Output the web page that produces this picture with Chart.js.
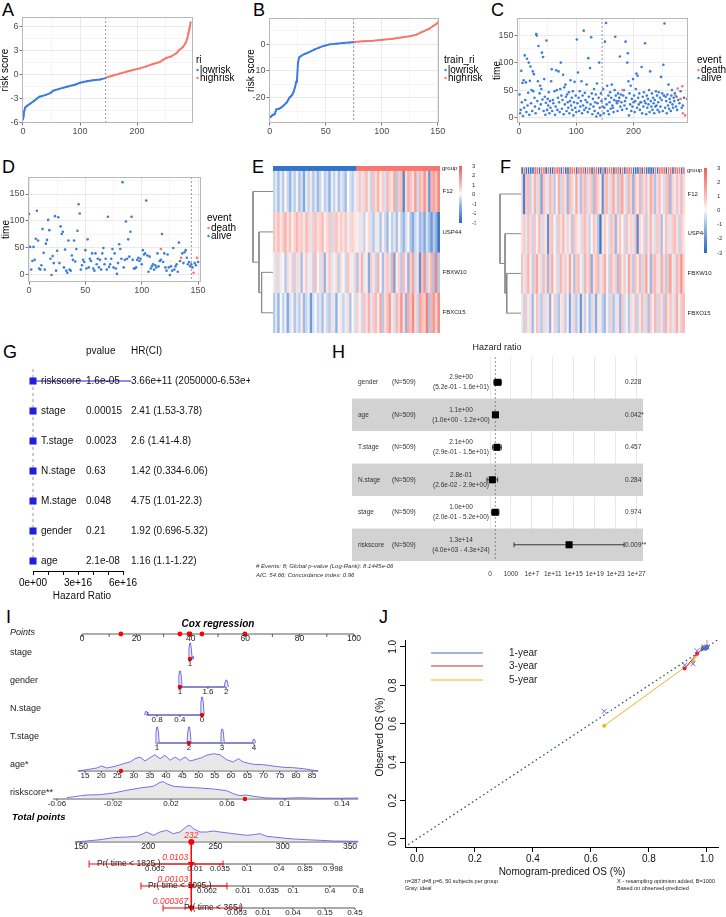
<!DOCTYPE html>
<html>
<head>
<meta charset="utf-8">
<script src="https://cdn.jsdelivr.net/npm/chart.js@4.4.1/dist/chart.umd.min.js"></script>
<style>
  body { margin: 0; background: #fff; }
  #page { position: relative; width: 726px; height: 917px; overflow: hidden; font-family: 'Liberation Sans', Arial, sans-serif; }
  #page canvas { position: absolute; }
  .tag { position: absolute; font-size: 18px; line-height: 18px; color: #000; }
</style>
</head>
<body>
<div id="page">
  <div class="tag" style="left:2px;top:1px">A</div>
  <div class="tag" style="left:253px;top:1px">B</div>
  <div class="tag" style="left:491px;top:1px">C</div>
  <div class="tag" style="left:2px;top:158px">D</div>
  <div class="tag" style="left:252px;top:158px">E</div>
  <div class="tag" style="left:500px;top:158px">F</div>
  <div class="tag" style="left:3px;top:343px">G</div>
  <div class="tag" style="left:332px;top:343px">H</div>
  <div class="tag" style="left:6px;top:608px">I</div>
  <div class="tag" style="left:379px;top:608px">J</div>
</div>
<script>
Chart.defaults.font.family = "'Liberation Sans', Arial, sans-serif";
Chart.defaults.animation = false;
Chart.defaults.responsive = false;
Chart.defaults.plugins.legend.display = false;
Chart.defaults.plugins.tooltip.enabled = false;

const FONT = "'Liberation Sans', Arial, sans-serif";
const BLUE = '#3B7DDC';
const RED = '#F8766D';

// ---------- A: risk score, training set ----------
const aLowIdx  = [0,1,2,4,7,13,19,24,29,39,48,53,62,77,91,100,112,123,135,145];
const aLowVal  = [-5.6,-5.2,-4.6,-4.1,-3.9,-3.6,-3.3,-3.0,-2.75,-2.55,-2.3,-2.0,-1.8,-1.5,-1.25,-1.0,-0.8,-0.68,-0.58,-0.42];
const aHighIdx = [146,158,170,181,193,205,216,228,240,245,251,260,269,274,280,285,288,290,292,294];
const aHighVal = [-0.35,-0.1,0.15,0.38,0.6,0.8,1.05,1.35,1.6,1.85,2.1,2.3,2.7,3.1,3.45,3.95,4.5,5.15,5.8,6.6];
const aCut = 145;

// ---------- B: risk score, test set ----------
const bLowIdx  = [0.6,1.8,3,4.5,6,8.3,10.4,12.5,14.9,16.4,17.9,20,21.4,22.6,23.8,24.4,25.3,26.2,28.3,31.3,35.7,40.2,44.6,49,53.6,59.5,65.5,71.4,75];
const bLowVal  = [-27.3,-26.7,-26.3,-26.1,-24.3,-24.1,-23.6,-22.9,-21.9,-20.9,-19.9,-19,-17.8,-16.1,-14,-13.4,-7,-5,-4.35,-3.7,-2.9,-2.0,-1.25,-0.6,-0.12,0.12,0.37,0.62,0.75];
const bHighIdx = [75.9,83.3,92.3,101,110,119,126.5,131,135.4,139.9,142.9,145.8,148.8,150.3];
const bHighVal = [0.75,1.0,1.25,1.6,2.0,2.5,3.0,3.5,4.35,5.2,5.8,6.7,7.45,8.2];
const bCut = 75;

// ---------- C: survival time, training set ----------
const cAlive = [[1,42],[2,8],[3,14],[4,85],[5,28],[6,63],[7,3],[8,68],[9,18],[10,113],[11,32],[12,64],[13,10],[14,107],[15,22],[16,45],[17,100],[18,5],[19,67],[20,93],[21,26],[22,50],[23,12],[24,84],[25,48],[26,79],[27,36],[28,20],[29,8],[30,152],
  [31,149],[32,30],[33,66],[34,130],[35,16],[36,44],[37,58],[38,24],[39,52],[40,118],[41,33],[42,110],[43,12],[44,70],[45,38],[46,5],[47,27],[48,140],[49,14],[50,34],[51,22],[52,46],[53,8],[54,30],[55,18],[56,66],[57,88],[58,12],[59,32],[60,26],
  [62,48],[63,5],[64,20],[65,86],[66,50],[67,14],[68,36],[69,84],[70,28],[71,10],[72,52],[73,100],[74,40],[75,16],[76,32],[77,78],[78,6],[79,55],[80,24],[81,60],[82,38],[83,12],[84,42],[85,28],[86,18],[87,46],[88,8],[89,30],[90,68],[91,22],[92,36],[93,14],[94,48],[95,4],[96,28],[97,65],[98,18],[99,40],[100,10],
  [101,142],[102,26],[103,82],[104,36],[105,12],[106,48],[107,20],[108,30],[109,66],[110,8],[111,40],[112,22],[113,158],[114,14],[115,45],[116,32],[117,18],[118,60],[119,28],[120,10],[121,108],[122,38],[123,16],[124,90],[125,24],[126,146],[127,44],[128,6],[129,34],[130,20],[131,52],[132,12],[133,28],[134,42],[135,2],[136,62],[137,26],[138,8],[139,36],[140,100],[141,18],[142,4],[143,44],[144,30],
  [146,20],[147,52],[148,8],[149,18],[150,138],[151,34],[152,172],[153,24],[154,58],[155,12],[156,40],[157,6],[158,28],[159,46],[160,16],[161,36],[162,60],[163,22],[168,147],[165,10],[166,32],[167,50],[164,18],[169,40],[170,30],[171,26],[172,12],[173,44],[174,30],[175,36],[176,111],[177,20],[178,42],[179,28],[180,14],[182,40],[183,50],[184,22],[185,30],[186,138],[187,36],[188,16],[189,100],[190,117],[191,66],[192,4],[193,44],[194,24],[195,58],[196,12],[197,34],[198,20],[199,70],[200,28],
  [201,40],[202,10],[203,30],[204,52],[205,80],[206,18],[207,76],[208,36],[209,24],[210,44],[211,14],[212,28],[213,28],[214,92],[215,8],[216,38],[217,20],[218,46],[219,30],[220,135],[221,26],[222,6],[223,40],[224,18],[225,34],[226,24],[227,50],[228,10],[229,84],[230,30],[231,20],[232,44],[233,14],[234,36],[235,26],[236,8],[237,32],[238,20],[239,48],[240,22],[241,40],[242,14],[243,28],[244,46],[245,10],[246,36],[247,20],[248,74],[249,32],[250,44],[251,12],[252,96],[253,40],[254,171],[255,18],[256,38],[257,30],[258,8],[259,42],[260,22],[261,60],[262,16],[263,34],[264,28],[265,12],[266,40],[267,50],[268,24],[269,18],[270,36],[271,30],[272,44],[274,20],[275,38],[276,14],[278,32],[280,26],[282,48],[284,18],[286,22],[288,36]];
const cDeath = [[181,50],[273,40],[277,53],[282,34],[285,57],[286,8],[290,4],[293,34]];
const cCut = 145;

// ---------- D: survival time, test set ----------
const dAlive = [[0,113],[1,52],[2,10],[3,26],[4,52],[5,28],[6,67],[7,119],[8,64],[9,12],[10,10],[11,18],[12,85],[13,41],[14,10],[15,58],[16,65],[17,102],[18,83],[19,30],[20,0],[21,35],[22,22],[23,109],[24,8],[25,45],[26,107],[27,22],[28,90],[29,76],
  [30,80],[31,14],[32,47],[33,8],[34,4],[35,64],[36,10],[37,8],[38,36],[39,28],[40,64],[41,25],[42,48],[43,82],[44,131],[45,114],[46,10],[47,18],[48,28],[49,24],[50,46],[51,12],[52,66],[53,14],[54,30],[55,26],[56,40],[57,12],[58,8],[59,40],
  [60,20],[61,30],[62,14],[63,28],[64,10],[65,40],[66,50],[67,20],[68,30],[69,10],[70,108],[71,15],[72,20],[73,30],[74,48],[75,14],[76,40],[77,12],[78,2],[79,22],[80,57],[81,48],[82,30],[83,172],[84,14],[85,28],[86,99],[87,30],[88,66],[89,34],
  [90,80],[91,108],[92,28],[93,12],[94,12],[95,14],[96,28],[97,32],[98,26],[99,30],[100,20],[101,46],[102,38],[103,40],[104,138],[105,36],[106,6],[107,34],[108,12],[109,16],[110,20],[111,10],[112,18],[113,14],[114,40],[115,16],[116,26],[117,28],[118,76],[119,24],
  [120,40],[121,14],[122,8],[123,38],[124,14],[125,0],[126,16],[127,8],[128,50],[129,10],[130,16],[131,20],[132,6],[133,60],[134,26],[136,40],[137,22],[138,42],[139,46],[140,32],[141,20],[142,24],[143,16],[144,20],[145,14],[147,22],[148,18],[150,24]];
const dDeath = [[117,48],[135,32],[146,4],[149,32]];
const dCut = 144;

// ---------- E / F: heatmaps (z-scores) ----------
const heatGenes = ['F12', 'USP44', 'FBXW10', 'FBXO15'];
const eGroup = [0,0,0,0,0,0,0,0,0,0,0,0,0,0,0,0,0,0,0,0,0,0,0,0,0,0,0,0,0,0,0,0,0,0,0,0,
                1,1,1,1,1,1,1,1,1,1,1,1,1,1,1,1,1,1,1,1,1,1,1,1,1,1,1,1,1,1,1,1,1,1,1,1];
const eF12 = [-0.6,-0.3,-1.0,-0.2,-0.8,0.1,-0.5,-1.2,-0.3,-0.7,0.2,-0.9,-0.4,-1.5,-0.2,-0.6,0.3,-0.8,-0.3,-1.1,-0.5,0.1,-0.7,-0.4,-1.3,-0.2,-0.6,0.2,-0.9,-0.3,-0.5,-1.0,0.0,-0.4,-0.7,-0.2,
              0.4,0.8,-0.3,0.6,1.0,0.3,-0.6,0.9,0.5,1.2,0.2,0.7,-0.4,1.1,0.6,0.3,1.4,-0.8,0.8,1.0,-2.2,0.5,1.3,0.9,0.4,1.6,-0.5,1.1,0.7,1.8,0.6,-1.8,1.2,1.5,0.9,2.0];
const eUSP44 = [0.8,0.5,1.0,0.3,0.7,1.2,0.4,0.9,0.2,0.6,1.1,0.5,0.8,0.3,1.0,0.6,-0.3,0.7,0.9,0.4,0.6,1.0,0.2,0.5,0.8,-0.5,0.6,0.9,0.3,0.7,0.4,0.8,-0.2,0.5,0.6,0.3,
                0.2,-0.3,0.4,-0.6,0.1,0.5,-0.4,-0.8,0.3,-0.2,-0.9,0.2,-0.5,-1.1,0.1,-0.7,-0.3,-1.0,0.2,-0.6,-1.2,-0.4,0.1,-0.9,-1.4,-0.5,-0.2,-1.1,-0.7,-1.5,-0.4,-1.0,-1.8,-0.8,-1.3,-2.6];
const eFBXW10 = [0.3,-0.4,0.6,-0.2,0.1,-0.8,0.5,0.2,-0.5,0.9,-0.3,0.4,-1.0,0.2,0.7,-0.2,0.3,-0.6,1.0,0.1,-0.4,0.6,-1.2,0.3,0.8,-0.3,0.2,0.5,-0.7,0.4,0.1,-0.5,0.9,0.3,-0.2,0.6,
                 -0.9,0.4,1.1,-0.3,0.2,-1.4,0.7,0.3,-0.6,1.2,0.1,-1.0,0.5,0.8,-0.4,1.3,-1.6,0.2,0.6,-0.8,1.0,0.3,-1.2,0.7,1.5,-0.5,0.4,-2.0,0.9,1.8,-0.6,0.5,1.2,-1.0,2.2,-0.8];
const eFBXO15 = [-0.8,-0.3,-1.2,0.1,-0.6,-0.2,-1.5,-0.4,0.2,-0.9,-0.3,-0.7,0.3,-1.1,-0.5,-0.2,-1.8,-0.4,0.1,-0.6,-0.3,-1.0,0.2,-0.5,-0.8,0.4,-0.3,-1.3,-0.1,0.3,-0.6,-0.2,0.5,-0.9,0.1,-0.4,
                 0.6,0.2,-0.5,0.9,0.4,1.2,-0.3,0.7,1.0,0.2,1.4,-0.8,0.5,0.9,1.6,0.3,-0.4,1.1,0.6,1.8,0.4,-1.2,1.3,0.8,2.0,0.5,-0.6,1.5,1.0,0.7,2.2,-0.9,1.2,1.7,0.6,1.9];

const fGroup = [0,1,0,0,0,0,1,1,0,1,1,0,1,0,0,1,1,1,0,1,0,0,1,1,1,0,1,1,1,0,1,1,0,1,1,0,0,1,0,1,
                1,1,0,1,1,0,1,0,1,1,1,0,0,0,1,0,1,0,0,0,0,1,0,1,1,1,0,1,1,0,1,1,1,0,1];
const fF12 = [0.5,-2.4,0.8,1.0,-0.6,0.3,1.2,-0.4,0.7,-1.6,0.9,0.4,-0.3,1.1,0.6,-0.8,0.2,1.3,-0.5,0.8,0.4,-1.2,1.0,0.6,-0.2,1.4,0.3,-0.9,0.7,1.1,
              -0.4,0.5,0.9,-1.0,1.2,0.6,0.2,-2.0,0.8,1.0,-0.3,0.7,1.3,0.4,-0.7,0.9,1.5,0.3,-0.5,1.1,0.6,-1.3,0.8,0.2,1.2,-0.6,0.5,0.9,-0.2,1.4,
              0.7,-0.9,0.4,1.0,0.2,-0.4,0.8,1.2,-1.1,0.6,0.3,0.9,-0.3,1.1,0.5];
const fUSP44 = [0.4,0.7,-0.3,0.9,0.5,-0.6,0.8,0.2,1.0,-0.4,0.6,0.3,-2.0,0.7,0.9,0.1,-0.5,0.8,0.4,1.1,-0.2,0.6,0.3,-0.8,0.9,0.5,0.2,-0.3,0.7,1.0,
                0.4,-0.6,0.1,0.8,0.5,-0.9,-2.6,0.3,0.7,0.2,-0.4,0.9,0.6,-1.2,0.4,0.8,0.1,-0.5,1.0,0.3,0.6,-0.3,0.9,-2.2,0.5,0.2,0.7,-0.7,0.4,1.1,
                0.3,-0.4,0.8,0.6,-1.0,0.2,0.9,0.5,-0.3,0.7,1.0,0.4,-0.6,0.8,0.3];
const fFBXW10 = [0.9,-0.3,0.6,1.2,0.2,-0.7,0.8,1.4,0.3,-0.4,1.0,0.5,-1.1,0.7,1.3,0.1,0.6,-0.5,1.1,0.4,0.8,-0.2,1.5,0.3,-0.9,0.7,1.0,0.2,-0.4,1.2,
                 0.5,0.9,-1.4,0.4,0.8,1.1,-0.3,0.6,1.3,0.2,-0.6,1.0,0.4,0.7,-1.0,1.2,0.3,0.8,-0.2,1.4,0.6,-0.8,0.9,0.3,1.1,-0.5,0.7,1.5,0.2,-1.2,
                 0.8,1.0,0.4,-0.3,1.3,0.6,-0.7,0.9,1.6,0.3,-0.4,1.1,0.7,1.8,0.5];
const fFBXO15 = [0.3,-0.6,0.8,-0.2,0.5,-1.1,0.2,0.9,-0.4,-0.8,0.6,-0.3,0.4,-1.3,0.1,0.7,-0.5,-0.9,0.3,0.5,-0.7,0.2,-1.5,-0.3,0.6,-0.8,-0.2,-1.9,0.4,-0.6,
                 0.1,-1.0,-0.4,0.5,-1.4,-0.2,0.3,-0.7,-1.1,0.2,-0.5,0.6,-0.9,-0.3,0.4,-1.2,0.8,-0.4,0.2,-0.8,0.5,-0.2,0.9,-0.6,0.3,1.0,-0.4,0.6,-1.0,0.7,
                 0.2,1.1,-0.5,0.8,0.4,-0.7,1.2,0.3,0.9,-0.3,0.6,1.3,-0.2,0.8,1.0];
const eDendroH = [0.57, 0.70, 1.0];   // merge heights: FBXW10+FBXO15, +USP44, +F12
const fDendroH = [0.68, 0.76, 1.0];
const legendTicks = [-3, -2, -1, 0, 1, 2, 3];

// ---------- G: univariate Cox forest ----------
const gVars = ['riskscore', 'stage', 'T.stage', 'N.stage', 'M.stage', 'gender', 'age'];
const gPval = ['1.6e-05', '0.00015', '0.0023', '0.63', '0.048', '0.21', '2.1e-08'];
const gHR   = [3.66e11, 2.41, 2.6, 1.42, 4.75, 1.92, 1.16];
const gLow  = [2050000, 1.53, 1.41, 0.334, 1.01, 0.696, 1.1];
const gHigh = [6.53e16, 3.78, 4.8, 6.06, 22.3, 5.32, 1.22];
const gHRText = ['3.66e+11 (2050000-6.53e+16)', '2.41 (1.53-3.78)', '2.6 (1.41-4.8)', '1.42 (0.334-6.06)',
                 '4.75 (1.01-22.3)', '1.92 (0.696-5.32)', '1.16 (1.1-1.22)'];
const gTickVals = [0, 1e16, 2e16, 3e16, 4e16, 5e16, 6e16];
const gTickLabels = ['0e+00', '', '', '3e+16', '', '', '6e+16'];

// ---------- H: multivariate Cox forest ----------
const hVars = ['gender', 'age', 'T.stage', 'N.stage', 'stage', 'riskscore'];
const hN = ['(N=509)', '(N=509)', '(N=509)', '(N=509)', '(N=509)', '(N=509)'];
const hHR   = [2.9, 1.1, 2.1, 0.28, 1.0, 1.3e14];
const hLow  = [0.52, 1.0, 0.29, 0.026, 0.2, 4.0e3];
const hHigh = [16, 1.2, 15, 2.9, 5.2, 4.3e24];
const hEst = ['2.9e+00', '1.1e+00', '2.1e+00', '2.8e-01', '1.0e+00', '1.3e+14'];
const hCI  = ['(5.2e-01 - 1.6e+01)', '(1.0e+00 - 1.2e+00)', '(2.9e-01 - 1.5e+01)', '(2.6e-02 - 2.9e+00)', '(2.0e-01 - 5.2e+00)', '(4.0e+03 - 4.3e+24)'];
const hP   = ['0.228', '0.042*', '0.457', '0.284', '0.974', '0.009**'];
const hTickVals = [0.1, 1e3, 1e7, 1e11, 1e15, 1e19, 1e23, 1e27];
const hTickLabels = ['0', '1000', '1e+7', '1e+11', '1e+15', '1e+19', '1e+23', '1e+27'];

// ---------- I: nomogram (positions in points / total points) ----------
const nomoPtsTicks = [0, 10, 20, 30, 40, 50, 60, 70, 80, 90, 100];
const nomoPtsLabels = ['0', '', '20', '', '40', '', '60', '', '80', '', '100'];
const stageLab = ['1'];                 const stagePts = [39.7];
const genderLab = ['1', '1.6', '2'];    const genderPts = [36.0, 46.3, 53.0];
const nstageLab = ['0.8', '0.4', '0'];  const nstagePts = [27.6, 36.0, 44.1];
const tstageLab = ['1', '2', '3', '4']; const tstagePts = [27.6, 39.3, 51.5, 63.2];
const ageLab = ['15','20','25','30','35','40','45','50','55','60','65','70','75','80','85'];
const agePts = [1.1, 7.1, 13.0, 19.0, 25.0, 30.9, 36.9, 42.9, 48.8, 54.8, 60.8, 66.7, 72.7, 78.7, 84.6];
const riskLab = ['-0.06', '-0.02', '0.02', '0.06', '0.1', '0.14'];
const riskPts = [-9.2, 11.4, 32.7, 53.3, 74.6, 95.6];
const totalTicks = [150, 200, 250, 300, 350];
const pr1825Lab = ['0.002','0.01','0.035','0.1','0.4','0.85','0.998'];
const pr1825Tot = [205, 234.8, 253.3, 273.4, 297.2, 316.5, 337.4];
const pr1095Lab = ['0.002','0.01','0.035','0.1','0.4','0.8'];
const pr1095Tot = [243.7, 270.4, 289.8, 307.6, 335.1, 356];
const pr365Lab = ['0.003','0.01','0.04','0.15','0.45'];
const pr365Tot = [266, 285.3, 307.6, 331.4, 353.7];
const stageDens  = [[39.0,0],[39.3,10],[39.6,16],[39.9,16],[40.2,10],[40.5,0],[40.8,3],[41.1,0]];
const genderDens = [[35.3,0],[35.6,11],[35.9,16],[36.2,16],[36.5,11],[36.8,0],[52.3,0],[52.6,5],[52.9,7],[53.2,7],[53.5,5],[53.8,0]];
const nstageDens = [[23.0,0],[23.3,3],[23.6,4],[23.9,3],[24.2,0],[43.4,0],[43.7,12],[44.0,18],[44.3,18],[44.6,12],[44.9,0]];
const tstageDens = [[26.9,0],[27.2,11],[27.5,16],[27.8,16],[28.1,11],[28.4,0],[38.6,0],[38.9,11],[39.2,16],[39.5,16],[39.8,11],[40.1,0],
                    [50.8,0],[51.1,10],[51.4,14],[51.7,14],[52.0,10],[52.3,0],[62.6,0],[62.9,3],[63.2,4],[63.5,3],[63.8,0]];
const ageDens = [[-1.4,0],[1.7,1.3],[5.4,3],[7.2,5],[9.1,3],[12.1,4.7],[15.2,7.3],[17.6,9],[19.5,12.3],[21.3,14],[23.2,10],[25,13.3],[26.8,16.3],
                 [28.7,12.3],[30.5,15.7],[32.4,10.7],[34.2,14],[36,10.7],[37.9,14],[39.7,10],[41.5,11.3],[44,13.3],[45.8,15.7],[48.3,17.3],[50.7,16.3],
                 [53.2,11.3],[55.6,9],[57.5,12.3],[59.3,9],[63,6.7],[66.7,6.3],[70.3,5],[74,3.7],[77.7,3.3],[81.4,2.3],[86.9,0]];
const riskDens = [[-10.6,0],[-5.6,1.3],[1.7,4],[6.6,4.3],[11.5,6],[16.4,8.7],[21.3,11],[26.2,12.7],[28.7,16.7],[29.9,17.3],[31.1,15.3],[33.6,12.7],
                  [38.5,11.7],[43.4,11],[48.3,10],[53.2,8.3],[55.6,5.3],[58.1,3.3],[60.5,4],[63,2.7],[67.9,1],[74,0.7],[80.1,1.3],[86.3,0.7],[92.4,0.7],[101.6,1]];
const totalDens = [[145.5,0],[154.2,1],[164.1,2.3],[174,4.3],[184,5],[191.4,5.7],[196.3,8.3],[198.8,10],[203.8,6.7],[208.7,10],[213.7,11.7],[218.6,8.3],
                   [223.6,10],[228.6,15.7],[231,16.7],[233.5,13.3],[238.5,10],[243.5,10],[248.4,11],[253.3,10],[263.3,8.3],[273.2,6.7],[278.2,7.3],
                   [283.1,8.3],[288.1,5.7],[298,4.3],[307.8,3],[317.8,2.3],[327.7,1.7],[337.6,1],[356.2,0.7]];
const nomoPatient = { stage: 39.7, gender: 36.0, nstage: 44.1, tstage: 39.3, age: 14.3, risk: 59.9 };
const nomoTotal = 232;
const prEst = ['0.0103', '0.00103', '0.000367'];
const prLow = [156, 194.6, 211];
const prHigh = [255.6, 258.5, 268.2];
const prNames = ['Pr( time < 1825 )', 'Pr( time < 1095 )', 'Pr( time < 365 )'];

// ---------- J: calibration ----------
const jDiag = [-0.03, 1.035];
const j1x = [0.985, 0.995, 1.0];          const j1y = [0.99, 0.99, 0.995];
const j3x = [0.923, 0.966, 0.99, 1.0];    const j3y = [0.887, 0.965, 0.995, 1.0];
const j5x = [0.646, 0.952, 0.985, 0.993, 1.0]; const j5y = [0.59, 0.925, 1.0, 1.0, 1.0];
const jCorrX = [0.646, 0.923, 0.952, 0.966, 0.99, 1.0];
const jCorrY = [0.665, 0.905, 0.912, 0.98, 1.0, 1.0];
const jTickVals = [0, 0.2, 0.4, 0.6, 0.8, 1.0];
const jTickLabels = ['0.0', '0.2', '0.4', '0.6', '0.8', '1.0'];

// ================= helpers =================
const page = document.getElementById('page');
function canvasAt(L, T, W, H) {
  const c = document.createElement('canvas');
  c.width = W; c.height = H;
  c.style.left = L + 'px'; c.style.top = T + 'px';
  c.style.width = W + 'px'; c.style.height = H + 'px';
  page.appendChild(c);
  return c;
}
function fixSize(prop, size) {
  return s => { s[prop] = size; s.paddingLeft = 0; s.paddingRight = 0; s.paddingTop = 0; s.paddingBottom = 0; };
}
function txt(ctx, s, x, y, o) {
  o = o || {};
  ctx.save();
  ctx.font = (o.style || '') + ' ' + (o.size || 10) + 'px ' + FONT;
  ctx.fillStyle = o.color || '#000';
  ctx.textAlign = o.align || 'left';
  ctx.textBaseline = 'middle';
  ctx.translate(x, y);
  if (o.rot) ctx.rotate(o.rot);
  ctx.fillText(s, 0, 0);
  ctx.restore();
}
function pts(xs, ys) { return xs.map((x, i) => ({ x: x, y: ys[i] })); }
function pairs(list) { return list.map(p => ({ x: p[0], y: p[1] })); }
function heatColor(v) {
  const t = Math.max(-1, Math.min(1, v / 3));
  const end = t < 0 ? [40, 104, 196] : [238, 96, 86];
  const k = Math.pow(Math.abs(t), 0.8);
  const c = end.map(e => Math.round(255 + (e - 255) * k));
  return 'rgb(' + c.join(',') + ')';
}

// ================= A-D: ggplot style panels =================
function ggPanel(o) {
  const a = o.area;
  const c = canvasAt(o.L, o.T, o.W, o.H);
  const axis = (min, max, maj, minr, fit) => {
    const all = maj.concat(minr).sort((p, q) => p - q);
    const isMaj = ctx => ctx.tick && maj.includes(ctx.tick.value);
    return {
      type: 'linear', min: min, max: max,
      afterBuildTicks: s => { s.ticks = all.map(v => ({ value: v })); },
      afterFit: fit,
      border: { display: false },
      grid: { color: ctx => isMaj(ctx) ? '#E4E4E4' : '#F3F3F3', tickColor: ctx => isMaj(ctx) ? '#555' : 'rgba(0,0,0,0)', tickLength: 2.5, lineWidth: 0.8 },
      ticks: { autoSkip: false, maxRotation: 0, minRotation: 0, padding: 1, color: '#4D4D4D', font: { size: 9 },
               callback: v => maj.includes(v) ? String(v) : '' }
    };
  };
  new Chart(c, {
    type: 'scatter',
    data: { datasets: o.datasets },
    options: {
      layout: { padding: { left: 0, top: a.t - o.T, right: o.L + o.W - a.r, bottom: 0 } },
      scales: {
        x: axis(o.xMin, o.xMax, o.xMajor, o.xMinor, fixSize('height', o.T + o.H - a.b)),
        y: axis(o.yMin, o.yMax, o.yMajor, o.yMinor, fixSize('width', a.l - o.L))
      }
    },
    plugins: [{
      id: 'gg',
      afterDraw(ch) {
        const ctx = ch.ctx, ca = ch.chartArea;
        ctx.save();
        const cx = ch.scales.x.getPixelForValue(o.cut);
        ctx.strokeStyle = '#8C8C8C'; ctx.lineWidth = 0.9; ctx.setLineDash([2, 2]);
        ctx.beginPath(); ctx.moveTo(cx, ca.top); ctx.lineTo(cx, ca.bottom); ctx.stroke();
        ctx.setLineDash([]);
        ctx.strokeStyle = '#B8B8B8'; ctx.lineWidth = 1;
        ctx.strokeRect(ca.left + 0.5, ca.top + 0.5, ca.width - 1, ca.height - 1);
        ctx.translate(-o.L, -o.T);
        txt(ctx, o.yTitle, o.yTitleX, (a.t + a.b) / 2, { size: 10, align: 'center', rot: -Math.PI / 2 });
        const lg = o.legend;
        txt(ctx, lg.title, lg.x, lg.y, { size: 10 });
        lg.items.forEach((it, i) => {
          const yy = lg.y + 10 + i * 8;
          ctx.fillStyle = it[1];
          ctx.beginPath(); ctx.arc(lg.x + 1.5, yy, 1.2, 0, Math.PI * 2); ctx.fill();
          txt(ctx, it[0], lg.x + 4, yy, { size: 10 });
        });
        ctx.restore();
      }
    }]
  });
}

function lineSet(xs, ys, color) {
  return { data: pts(xs, ys), showLine: true, borderColor: color, borderWidth: 2, pointRadius: 1, pointBackgroundColor: color, pointBorderWidth: 0 };
}
function dotSet(list, color) {
  return { data: pairs(list), pointRadius: 1.3, pointBackgroundColor: color, pointBorderWidth: 0 };
}

ggPanel({ L: 0, T: 12, W: 250, H: 128, area: { l: 22, t: 17, r: 193, b: 123 },
  xMin: -1.75, xMax: 298.2, xMajor: [0, 100, 200], xMinor: [50, 150, 250],
  yMin: -6.05, yMax: 7.25, yMajor: [-6, -3, 0, 3, 6], yMinor: [-4.5, -1.5, 1.5, 4.5],
  cut: aCut, yTitle: 'risk score', yTitleX: 5,
  legend: { title: 'ri', x: 196, y: 60, items: [['lowrisk', BLUE], ['highrisk', RED]] },
  datasets: [lineSet(aHighIdx, aHighVal, RED), lineSet(aLowIdx, aLowVal, BLUE)] });

ggPanel({ L: 245, T: 12, W: 245, H: 128, area: { l: 269, t: 18, r: 439, b: 123 },
  xMin: -0.6, xMax: 151.2, xMajor: [0, 50, 100, 150], xMinor: [25, 75, 125],
  yMin: -29.4, yMax: 9.7, yMajor: [-20, -10, 0], yMinor: [-25, -15, -5, 5],
  cut: bCut, yTitle: 'risk score', yTitleX: 251,
  legend: { title: 'train_ri', x: 444, y: 60, items: [['lowrisk', BLUE], ['highrisk', RED]] },
  datasets: [lineSet(bHighIdx, bHighVal, RED), lineSet(bLowIdx, bLowVal, BLUE)] });

ggPanel({ L: 490, T: 12, W: 236, H: 128, area: { l: 517, t: 18, r: 688, b: 123 },
  xMin: -3.5, xMax: 295, xMajor: [0, 100, 200], xMinor: [50, 150, 250],
  yMin: -9.8, yMax: 181, yMajor: [0, 50, 100, 150], yMinor: [25, 75, 125, 175],
  cut: cCut, yTitle: 'time', yTitleX: 497,
  legend: { title: 'event', x: 697, y: 60, items: [['death', RED], ['alive', BLUE]] },
  datasets: [dotSet(cDeath, RED), dotSet(cAlive, BLUE)] });

ggPanel({ L: 0, T: 170, W: 250, H: 125, area: { l: 28, t: 177, r: 201, b: 282 },
  xMin: -0.9, xMax: 152.6, xMajor: [0, 50, 100, 150], xMinor: [25, 75, 125],
  yMin: -13, yMax: 181.5, yMajor: [0, 50, 100, 150], yMinor: [25, 75, 125, 175],
  cut: dCut, yTitle: 'time', yTitleX: 6,
  legend: { title: 'event', x: 207, y: 218, items: [['death', RED], ['alive', BLUE]] },
  datasets: [dotSet(dDeath, RED), dotSet(dAlive, BLUE)] });

// ================= E / F: heatmaps =================
function heatPanel(o) {
  const a = o.area;
  const c = canvasAt(o.L, o.T, o.W, o.H);
  const nr = o.rows.length;
  const labels = o.rows[0].map((_, i) => i + 1);
  const ds = o.rows.map((vals, r) => ({
    data: vals.map(() => [nr - 1 - r, nr - r]),
    backgroundColor: vals.map(heatColor),
    grouped: false, barPercentage: 1, categoryPercentage: 1, borderWidth: 0
  }));
  ds.push({
    data: o.group.map(() => [nr, o.yTop]),
    backgroundColor: o.group.map(g => g ? RED : '#3474C8'),
    grouped: false, barPercentage: 1, categoryPercentage: 1,
    borderWidth: o.groupBorder, borderColor: '#fff', borderSkipped: false
  });
  new Chart(c, {
    type: 'bar',
    data: { labels: labels, datasets: ds },
    options: {
      layout: { padding: { left: a.l - o.L, top: a.t - o.T, right: o.L + o.W - a.r, bottom: o.T + o.H - a.b } },
      scales: { x: { display: false }, y: { display: false, min: 0, max: o.yTop } }
    },
    plugins: [{
      id: 'heatLabels',
      afterDraw(ch) {
        const ctx = ch.ctx, ys = ch.scales.y, ca = ch.chartArea;
        heatGenes.forEach((g, r) => txt(ctx, g, ca.right + 2.5, ys.getPixelForValue(nr - 0.5 - r), { size: 6, color: '#222' }));
        txt(ctx, 'group', ca.right + 2, ys.getPixelForValue((nr + o.yTop) / 2), { size: 6, color: '#222' });
      }
    }]
  });
}
function dendroPanel(o) {
  const a = o.area;
  const c = canvasAt(o.L, o.T, o.W, o.H);
  const [hs, hm, hr] = o.heights;
  const yOf = r => 3.5 - r;
  const ySub = (yOf(2) + yOf(3)) / 2, yMid = (yOf(1) + ySub) / 2;
  const segs = [
    [[0, yOf(2)], [hs, yOf(2)], [hs, yOf(3)], [0, yOf(3)]],
    [[0, yOf(1)], [hm, yOf(1)], [hm, ySub], [hs, ySub]],
    [[0, yOf(0)], [hr, yOf(0)], [hr, yMid], [hm, yMid]]
  ];
  new Chart(c, {
    type: 'scatter',
    data: { datasets: segs.map(s => ({ data: pairs(s), showLine: true, borderColor: '#8A8A8A', borderWidth: 1, pointRadius: 0, clip: false })) },
    options: {
      layout: { padding: { left: a.l - o.L, top: a.t - o.T, right: o.L + o.W - a.r, bottom: o.T + o.H - a.b } },
      scales: { x: { display: false, min: 0, max: 1, reverse: true }, y: { display: false, min: 0, max: o.yTop } }
    }
  });
}
function heatLegend(o) {
  const a = o.area;
  const c = canvasAt(o.L, o.T, o.W, o.H);
  const steps = Array.from({ length: 60 }, (_, i) => -2.95 + i * 0.1);
  new Chart(c, {
    type: 'bar',
    data: { labels: [''], datasets: steps.map(v => ({ data: [[v - 0.05, v + 0.05]], backgroundColor: heatColor(v), grouped: false, barPercentage: 1, categoryPercentage: 1 })) },
    options: {
      layout: { padding: { left: a.l - o.L, top: a.t - o.T, right: 0, bottom: o.T + o.H - a.b } },
      scales: {
        x: { display: false },
        y: { position: 'right', min: -3, max: 3,
             afterBuildTicks: s => { s.ticks = legendTicks.map(v => ({ value: v })); },
             afterFit: fixSize('width', o.L + o.W - a.r),
             grid: { display: false }, border: { display: false },
             ticks: { autoSkip: false, padding: 2, font: { size: 6 }, color: '#333', callback: v => String(v) } }
      }
    }
  });
}

heatPanel({ L: 273, T: 160, W: 195, H: 175, area: { l: 273, t: 166, r: 440, b: 333 }, yTop: 4.13,
  rows: [eF12, eUSP44, eFBXW10, eFBXO15], group: eGroup, groupBorder: 0 });
dendroPanel({ L: 250, T: 160, W: 25, H: 175, area: { l: 253, t: 166, r: 273, b: 333 }, yTop: 4.13, heights: eDendroH });
heatLegend({ L: 456, T: 160, W: 20, H: 72, area: { l: 459, t: 166, r: 462, b: 223 } });

heatPanel({ L: 521, T: 160, W: 200, H: 175, area: { l: 521, t: 167, r: 685, b: 333 }, yTop: 4.18,
  rows: [fF12, fUSP44, fFBXW10, fFBXO15], group: fGroup, groupBorder: 0.6 });
dendroPanel({ L: 497, T: 160, W: 25, H: 175, area: { l: 500, t: 167, r: 521, b: 333 }, yTop: 4.18, heights: fDendroH });
heatLegend({ L: 701, T: 160, W: 25, H: 100, area: { l: 704, t: 168, r: 707, b: 253 } });

// ================= G: forest (univariate) =================
(function () {
  const L = 0, T = 335, W = 250, H = 270;
  const c = canvasAt(L, T, W, H);
  const ds = [{
    data: gHR.map((v, i) => ({ x: v, y: i + 1 })), pointStyle: 'rect', pointRadius: 5,
    pointBackgroundColor: '#1F1FE0', pointBorderWidth: 0, clip: false, order: 0
  }];
  gVars.forEach((_, i) => ds.push({
    data: [{ x: gLow[i], y: i + 1 }, { x: gHigh[i], y: i + 1 }], showLine: true,
    borderColor: '#1F1FE0', borderWidth: 1, pointRadius: 0, clip: false, order: 1
  }));
  ds.push({ data: [{ x: 1, y: 0.6 }, { x: 1, y: 7.15 }], showLine: true, borderColor: '#9A9A9A',
            borderWidth: 1, borderDash: [3, 3], pointRadius: 0, clip: false, order: 2 });
  new Chart(c, {
    type: 'scatter',
    data: { datasets: ds },
    options: {
      layout: { padding: { left: 33, top: 16, right: 127, bottom: 0 } },
      scales: {
        x: { type: 'linear', min: 0, max: 6e16,
             afterBuildTicks: s => { s.ticks = gTickVals.map(v => ({ value: v })); },
             afterFit: fixSize('height', 34),
             border: { display: true, color: '#000', width: 1 },
             grid: { drawOnChartArea: false, tickLength: 4, tickColor: '#000' },
             ticks: { autoSkip: false, maxRotation: 0, padding: 2, color: '#000', font: { size: 10 }, callback: (v, i) => gTickLabels[i] } },
        y: { display: false, min: 0, max: 7.333, reverse: true }
      }
    },
    plugins: [{
      id: 'gText',
      afterDraw(ch) {
        const ctx = ch.ctx, ys = ch.scales.y;
        ctx.save();
        ctx.translate(-L, -T);
        const ry = v => ys.getPixelForValue(v) + T;
        txt(ctx, 'pvalue', 86, ry(0), { size: 10, color: '#111' });
        txt(ctx, 'HR(CI)', 131, ry(0), { size: 10, color: '#111' });
        gVars.forEach((g, i) => {
          txt(ctx, g, 41, ry(i + 1), { size: 10, color: '#111' });
          txt(ctx, gPval[i], 86, ry(i + 1), { size: 10, color: '#111' });
          txt(ctx, gHRText[i], 131, ry(i + 1), { size: 10, color: '#111' });
        });
        txt(ctx, 'Hazard Ratio', 82, 596, { size: 10, align: 'center', color: '#111' });
        ctx.restore();
      }
    }]
  });
})();

// ================= H: forest (multivariate) =================
(function () {
  const L = 250, T = 340, W = 400, H = 245;
  const c = canvasAt(L, T, W, H);
  const ds = [{
    data: hHR.map((v, i) => ({ x: v, y: i + 1 })), pointStyle: 'rect', pointRadius: 5,
    pointBackgroundColor: '#000', pointBorderWidth: 0, clip: false, order: 0
  }];
  hVars.forEach((_, i) => {
    ds.push({ data: [{ x: hLow[i], y: i + 1 }, { x: hHigh[i], y: i + 1 }], showLine: true, borderColor: '#111',
              borderWidth: 0.8, pointStyle: 'line', rotation: 90, pointRadius: 2.5, pointBorderColor: '#111',
              pointBorderWidth: 0.8, clip: false, order: 1 });
  });
  ds.push({ data: [{ x: 1, y: 0.22 }, { x: 1, y: 6.5 }], showLine: true, borderColor: '#777',
            borderWidth: 0.8, borderDash: [2, 2], pointRadius: 0, order: 2 });
  new Chart(c, {
    type: 'scatter',
    data: { datasets: ds },
    options: {
      layout: { padding: { left: 240, top: 17, right: 13.5, bottom: 0 } },
      scales: {
        x: { type: 'logarithmic', min: 0.1, max: 1e27,
             afterBuildTicks: s => { s.ticks = hTickVals.map(v => ({ value: v })); },
             afterFit: fixSize('height', 24),
             border: { display: false },
             grid: { color: '#E2E2E2', lineWidth: 0.8, drawTicks: false },
             ticks: { autoSkip: false, maxRotation: 0, padding: 9, color: '#333', font: { size: 6.5 }, callback: (v, i) => hTickLabels[i] } },
        y: { display: false, min: 0.22, max: 6.5, reverse: true }
      }
    },
    plugins: [{
      id: 'hDeco',
      beforeDatasetsDraw(ch) {
        const ctx = ch.ctx, ys = ch.scales.y;
        ctx.save();
        ctx.fillStyle = '#D2D2D2';
        [2, 4, 6].forEach(r => {
          const y0 = ys.getPixelForValue(r - 0.5), y1 = ys.getPixelForValue(r + 0.5);
          ctx.fillRect(352 - L, y0, 643 - 352, y1 - y0);
        });
        ctx.restore();
      },
      afterDraw(ch) {
        const ctx = ch.ctx, ys = ch.scales.y;
        ctx.save();
        ctx.translate(-L, -T);
        const ry = v => ys.getPixelForValue(v) + T;
        txt(ctx, 'Hazard ratio', 497, 348, { size: 9, align: 'center', color: '#222' });
        hVars.forEach((g, i) => {
          const y = ry(i + 1);
          txt(ctx, g, 358, y, { size: 6.5, color: '#333' });
          txt(ctx, hN[i], 392, y, { size: 6.5, color: '#333' });
          txt(ctx, hEst[i], 461, y - 5, { size: 6.5, align: 'center', color: '#333' });
          txt(ctx, hCI[i], 461, y + 5, { size: 6.5, align: 'center', color: '#333' });
          txt(ctx, hP[i], 625, y, { size: 6.5, color: '#333' });
        });
        txt(ctx, '# Events: 8; Global p-value (Log-Rank): 8.1445e-06', 256, 566, { size: 6, style: 'italic', color: '#333' });
        txt(ctx, 'AIC: 54.66; Concordance index: 0.96', 256, 575, { size: 6, style: 'italic', color: '#333' });
        ctx.restore();
      }
    }]
  });
})();

// ================= I: nomogram =================
(function () {
  const L = 0, T = 605, W = 365, H = 312;
  const base = { points: 634, stage: 659, gender: 687, nstage: 715, tstage: 743, age: 771, risk: 799, total: 842, pr: [864, 886, 908] };
  const c = canvasAt(L, T, W, H);
  const RD = '#FF0000', DB = '#5050F0', FILL = 'rgba(190,190,190,0.35)';
  const seg = (x0, x1, y, color, w, axis) => ({ data: [{ x: x0, y: y }, { x: x1, y: y }], showLine: true, borderColor: color,
                                                 borderWidth: w, pointRadius: 0, xAxisID: axis || 'x', clip: false, order: 5 });
  const dens = (list, y, axis) => ({ data: list.map(p => ({ x: p[0], y: y - p[1] })), showLine: true, borderColor: DB, borderWidth: 0.8,
                                     pointRadius: 0, fill: { value: y }, backgroundColor: FILL, xAxisID: axis || 'x', clip: false, order: 4 });
  const ds = [];
  ds.push(seg(0, 100, base.points, '#333', 0.8));
  ds.push(seg(genderPts[0], genderPts[2], base.gender, '#333', 0.8));
  ds.push(seg(23.5, nstagePts[2], base.nstage, '#333', 0.8));
  ds.push(seg(tstagePts[0], tstagePts[3], base.tstage, '#333', 0.8));
  ds.push(seg(-1.5, 86.8, base.age, '#333', 0.8));
  ds.push(seg(-10.7, 101.5, base.risk, '#333', 0.8));
  ds.push(seg(145.5, 356, base.total, '#333', 0.8, 'x2'));
  [pr1825Tot, pr1095Tot, pr365Tot].forEach((t, i) => ds.push(seg(t[0], t[t.length - 1], base.pr[i], '#8C8C8C', 1.5, 'x2')));
  ds.push(dens(stageDens, base.stage));
  ds.push(dens(genderDens, base.gender));
  ds.push(dens(nstageDens, base.nstage));
  ds.push(dens(tstageDens, base.tstage));
  ds.push(dens(ageDens, base.age));
  ds.push(dens(riskDens, base.risk));
  ds.push(dens(totalDens, base.total, 'x2'));
  const pat = nomoPatient;
  ds.push({ data: Object.values(pat).map(v => ({ x: v, y: base.points })), pointRadius: 2.4, pointBackgroundColor: RD, pointBorderWidth: 0, clip: false, order: 0 });
  ds.push({ data: [{ x: pat.stage, y: base.stage }, { x: pat.gender, y: base.gender }, { x: pat.nstage, y: base.nstage },
                   { x: pat.tstage, y: base.tstage }, { x: pat.age, y: base.age }, { x: pat.risk, y: base.risk }],
            pointRadius: 2.2, pointBackgroundColor: RD, pointBorderWidth: 0, clip: false, order: 0 });
  ds.push({ data: [{ x: nomoTotal, y: base.total }], xAxisID: 'x2', pointRadius: 3, pointBackgroundColor: RD, pointBorderWidth: 0, order: 0 });
  ds.push(seg(nomoTotal, nomoTotal, base.total, RD, 1, 'x2'));
  ds[ds.length - 1].data[1].y = base.pr[2];
  ds[ds.length - 1].order = 1;
  ds.push({ data: base.pr.map(y => ({ x: nomoTotal, y: y })), xAxisID: 'x2', pointStyle: 'triangle', rotation: 180,
            pointRadius: 4, pointBackgroundColor: RD, pointBorderWidth: 0, clip: false, order: 0 });
  prLow.forEach((lo, i) => ds.push({ data: [{ x: lo, y: base.pr[i] }, { x: prHigh[i], y: base.pr[i] }], xAxisID: 'x2', showLine: true,
            borderColor: RD, borderWidth: 1, pointStyle: 'line', rotation: 90, pointRadius: 3.5, pointBorderColor: RD,
            pointBorderWidth: 1, clip: false, order: 1 }));
  new Chart(c, {
    type: 'scatter',
    data: { datasets: ds },
    options: {
      layout: { padding: { left: 82, top: 15, right: 11, bottom: 5 } },
      scales: {
        x: { display: false, type: 'linear', min: 0, max: 100 },
        x2: { display: false, type: 'linear', axis: 'x', min: 150.74, max: 352.97 },
        y: { display: false, min: 620, max: 912, reverse: true }
      }
    },
    plugins: [{
      id: 'nomoText',
      afterDraw(ch) {
        const ctx = ch.ctx, xs = ch.scales.x, x2 = ch.scales.x2, ys = ch.scales.y;
        ctx.save();
        ctx.translate(-L, -T);
        const py = v => ys.getPixelForValue(v) + T;
        const ticks = (scale, b, vals, labs, len, off, size, color) => {
          ctx.strokeStyle = '#333'; ctx.lineWidth = 0.8;
          vals.forEach((v, i) => {
            const px = scale.getPixelForValue(v) + L;
            ctx.beginPath(); ctx.moveTo(px, py(b)); ctx.lineTo(px, py(b) + len); ctx.stroke();
            if (labs[i]) txt(ctx, labs[i], px, py(b) + off, { size: size, align: 'center', color: color || '#222' });
          });
        };
        ticks(xs, base.points, nomoPtsTicks, nomoPtsLabels, 3, 5, 8.5);
        ticks(xs, base.stage, stagePts, stageLab, 2, 5, 8);
        ticks(xs, base.gender, genderPts, genderLab, 2, 5, 8);
        ticks(xs, base.nstage, nstagePts, nstageLab, 2, 5, 8);
        ticks(xs, base.tstage, tstagePts, tstageLab, 2, 5, 8);
        ticks(xs, base.age, agePts, ageLab, 2, 5, 8);
        ticks(xs, base.risk, riskPts, riskLab, 2, 5, 8);
        ticks(x2, base.total, totalTicks, totalTicks.map(String), 2, 5, 8.5);
        ticks(x2, base.pr[0], pr1825Tot, pr1825Lab, 2, 5, 8);
        ticks(x2, base.pr[1], pr1095Tot, pr1095Lab, 2, 5, 8);
        ticks(x2, base.pr[2], pr365Tot, pr365Lab, 2, 5, 8);
        txt(ctx, 'Cox regression', 218, 624, { size: 10, style: 'italic bold', align: 'center' });
        txt(ctx, 'Points', 10, 632, { size: 9, style: 'italic', color: '#222' });
        [['stage', base.stage], ['gender', base.gender], ['N.stage', base.nstage], ['T.stage', base.tstage],
         ['age*', base.age], ['riskscore**', base.risk]].forEach(r => txt(ctx, r[0], 10, py(r[1]) - 6, { size: 9, color: '#222' }));
        txt(ctx, 'Total points', 12, 817, { size: 9.5, style: 'italic bold' });
        const tx = x2.getPixelForValue(nomoTotal) + L;
        txt(ctx, String(nomoTotal), tx, py(base.total) - 6, { size: 8.5, style: 'italic', align: 'center', color: '#FF3030' });
        const prX = [97, 148, 184];
        prNames.forEach((n, i) => txt(ctx, n, prX[i], py(base.pr[i]), { size: 8.5, color: '#222' }));
        prEst.forEach((e, i) => txt(ctx, e, tx - 3, py(base.pr[i]) - 6, { size: 8.5, style: 'italic', align: 'right', color: '#FF3030' }));
        ctx.restore();
      }
    }]
  });
})();

// ================= J: calibration =================
(function () {
  const L = 360, T = 630, W = 366, H = 267;
  const c = canvasAt(L, T, W, H);
  const C1 = '#3470C0', C3 = '#D42A2A', C5 = '#F0B323';
  const curve = (xs, ys, col) => ({ data: pts(xs, ys), showLine: true, borderColor: col, borderWidth: 1, pointRadius: 2,
                                    pointBackgroundColor: col, pointBorderWidth: 0, clip: false, order: 1 });
  const ds = [
    { data: pts(jCorrX, jCorrY), pointStyle: 'crossRot', pointRadius: 3.5, pointBorderColor: '#6A6AF5', pointBorderWidth: 1, clip: false, order: 0 },
    curve(j1x, j1y, C1), curve(j3x, j3y, C3), curve(j5x, j5y, C5),
    { data: [{ x: 1.0, y: 1.0 }, { x: 1.0, y: 1.036 }], showLine: true, borderColor: '#999', borderWidth: 1, pointRadius: 0, clip: false, order: 2 },
    { data: pts(jDiag, jDiag), showLine: true, borderColor: '#2F4F55', borderWidth: 1.3, borderDash: [1.5, 3], pointRadius: 0, order: 3 }
  ];
  const axisOpt = (min, max, fit, showLabels) => ({
    type: 'linear', min: min, max: max,
    afterBuildTicks: s => { s.ticks = jTickVals.map(v => ({ value: v })); },
    afterFit: fit,
    border: { display: true, color: '#000', width: 1 },
    grid: { drawOnChartArea: false, tickLength: 5, tickColor: '#000' },
    ticks: { display: showLabels, autoSkip: false, maxRotation: 0, padding: 1, color: '#111', font: { size: 10 }, callback: (v, i) => jTickLabels[i] }
  });
  new Chart(c, {
    type: 'scatter',
    data: { datasets: ds },
    options: {
      layout: { padding: { left: 0, top: 10, right: 8, bottom: 0 } },
      scales: {
        x: axisOpt(-0.041, 1.038, fixSize('height', 50), true),
        y: axisOpt(-0.042, 1.036, fixSize('width', 45), false)
      }
    },
    plugins: [{
      id: 'jText',
      afterDraw(ch) {
        const ctx = ch.ctx, ys = ch.scales.y;
        ctx.save();
        ctx.translate(-L, -T);
        jTickVals.forEach((v, i) => txt(ctx, jTickLabels[i], 393, ys.getPixelForValue(v) + T, { size: 10, align: 'center', rot: -Math.PI / 2, color: '#111' }));
        txt(ctx, 'Observed OS (%)', 380, 737, { size: 10, align: 'center', rot: -Math.PI / 2, color: '#111' });
        txt(ctx, 'Nomogram-prediced OS (%)', 562, 872, { size: 10, align: 'center', color: '#111' });
        [['1-year', C1, 653], ['3-year', C3, 666], ['5-year', C5, 680]].forEach(r => {
          ctx.strokeStyle = r[1]; ctx.lineWidth = 1;
          ctx.beginPath(); ctx.moveTo(431, r[2]); ctx.lineTo(483, r[2]); ctx.stroke();
          txt(ctx, r[0], 509, r[2], { size: 10, color: '#222' });
        });
        txt(ctx, 'n=287 d=8 p=6, 50 subjects per group', 405, 881, { size: 5.5, color: '#222' });
        txt(ctx, 'Gray: ideal', 405, 888, { size: 5.5, color: '#222' });
        txt(ctx, 'X - resampling optimism added, B=1000', 617, 881, { size: 5.5, color: '#222' });
        txt(ctx, 'Based on observed-predicted', 617, 888, { size: 5.5, color: '#222' });
        ctx.restore();
      }
    }]
  });
})();
</script>
</body>
</html>
